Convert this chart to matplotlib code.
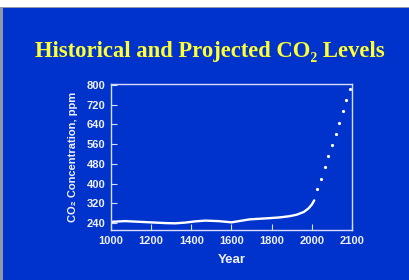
import numpy as np
import matplotlib.pyplot as plt
from matplotlib.patches import Rectangle
from matplotlib.ticker import NullLocator

# Datos
anios_hist = [1000, 1070, 1170, 1270, 1320, 1370, 1420, 1470, 1535, 1600,
              1690, 1790, 1840, 1890, 1925, 1960, 1983, 2000, 2006]
ppm_hist = [245, 248, 244, 240, 239, 242, 247, 250, 248, 243,
            255, 260, 263, 268, 274, 285, 299, 315, 332]
anios_proy = [2014, 2023, 2032, 2041, 2050, 2059, 2068, 2077, 2086, 2095]
ppm_proy = [376, 419, 465, 511, 556, 602, 647, 693, 739, 784]
xticks = [1000, 1200, 1400, 1600, 1800, 2000, 2100]
yticks = [240, 320, 400, 480, 560, 640, 720, 800]

azul = '#0033cc'
linea = '#d8def8'

# Escala del eje x: el ultimo siglo esta estirado al doble
def adelante(x):
    x = np.asarray(x, dtype=float)
    return np.where(x <= 2000, x, 2000 + 2 * (x - 2000))

def atras(x):
    x = np.asarray(x, dtype=float)
    return np.where(x <= 2000, x, 2000 + (x - 2000) / 2)

fig = plt.figure(figsize=(4.09, 2.80), dpi=100, facecolor='white')
# fondo de la diapositiva
fig.patches.append(Rectangle((0, 0), 1, 1 - 7 / 280, transform=fig.transFigure,
                             facecolor='#9098a8', edgecolor='none', zorder=-2))
fig.patches.append(Rectangle((3 / 409, 0), 1, 1 - 8 / 280, transform=fig.transFigure,
                             facecolor=azul, edgecolor='none', zorder=-1))

ax = fig.add_axes([111 / 409, 1 - 230 / 280, 241 / 409, 146 / 280])
ax.set_facecolor(azul)
ax.set_xscale('function', functions=(adelante, atras))

ax.plot(anios_hist, ppm_hist, color='white', lw=1.7, solid_capstyle='round')
ax.plot(anios_proy, ppm_proy, 'o', color='white', ms=2.3, mec='none')

ax.set_xlim(1000, 2100)
ax.set_ylim(212, 803)
ax.set_xticks(xticks)
ax.set_yticks(yticks)
ax.xaxis.set_minor_locator(NullLocator())
ax.yaxis.set_minor_locator(NullLocator())
ax.tick_params(direction='in', colors=linea, length=4, width=0.8,
               labelsize=8, labelcolor='#eef0fa', pad=4)
for lab in ax.get_xticklabels() + ax.get_yticklabels():
    lab.set_fontweight('bold')
    lab.set_family('Liberation Sans')
for s in ax.spines.values():
    s.set_color(linea)
    s.set_linewidth(1.0)

ax.set_xlabel('Year', color='#eef0fa', fontsize=9.5, fontweight='bold',
              family='Liberation Sans', labelpad=6)
ax.set_ylabel('CO₂ Concentration, ppm', color='#eef0fa', fontsize=8,
              fontweight='bold', family=['Liberation Sans', 'DejaVu Sans'], labelpad=6)

fig.text(0.513, 1 - 57 / 280, 'Historical and Projected CO₂ Levels', color='#ffff33',
         fontsize=16.3, fontweight='bold', family=['Liberation Serif', 'DejaVu Serif'],
         ha='center', va='baseline')

fig.savefig('out.png', dpi=100, facecolor=fig.get_facecolor())
